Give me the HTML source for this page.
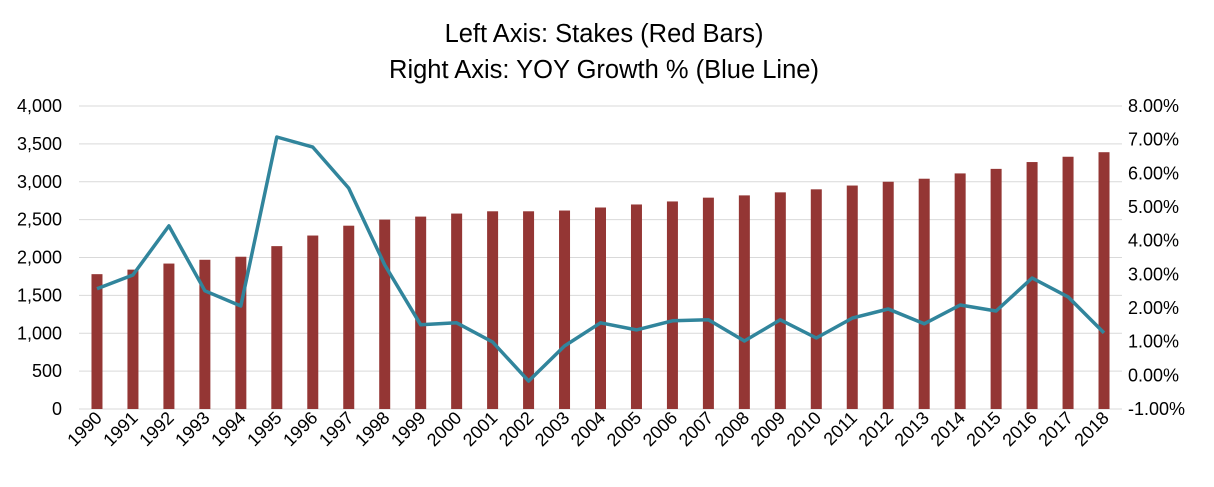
<!DOCTYPE html>
<html><head><meta charset="utf-8"><style>
html,body{margin:0;padding:0;background:#fff;}
svg{display:block;font-family:"Liberation Sans",sans-serif;}
</style></head><body>
<svg id="chart" width="1214" height="487">
<text x="604" y="42" text-anchor="middle" font-size="25.5" fill="#000">Left Axis: Stakes (Red Bars)</text>
<text x="604" y="78" text-anchor="middle" font-size="25.5" fill="#000">Right Axis: YOY Growth % (Blue Line)</text>
<g id="grid"></g><g id="bars"></g><g id="line"></g><g id="axes"></g>
</svg>
<script>
const years=["1990","1991","1992","1993","1994","1995","1996","1997","1998","1999","2000","2001","2002","2003","2004","2005","2006","2007","2008","2009","2010","2011","2012","2013","2014","2015","2016","2017","2018"];
const stakes=[1780,1840,1920,1970,2010,2150,2290,2420,2500,2540,2580,2610,2610,2620,2660,2700,2740,2790,2820,2860,2900,2950,3000,3040,3110,3170,3260,3330,3390];
const growth=[2.57,2.98,4.44,2.51,2.06,7.08,6.78,5.56,3.28,1.50,1.56,0.99,-0.17,0.87,1.56,1.35,1.62,1.65,1.02,1.65,1.11,1.70,1.97,1.53,2.09,1.91,2.89,2.33,1.26];
const leftTicks=[0,500,1000,1500,2000,2500,3000,3500,4000];
const rightTicks=[-1,0,1,2,3,4,5,6,7,8];
const NS="http://www.w3.org/2000/svg";
const L=79,R=1122,T=106,B=409;
const band=(R-L)/years.length;
const xC=i=>L+band*(i+0.5);
const yL=v=>B-(v-0)/(4000-0)*(B-T);
const yR=v=>B-(v+1)/(8+1)*(B-T);
function mk(tag,attrs,parent){const e=document.createElementNS(NS,tag);for(const k in attrs)e.setAttribute(k,attrs[k]);document.getElementById(parent).appendChild(e);return e;}
leftTicks.forEach((t,i)=>{
 const g=mk('line',{x1:L,x2:R,y1:yL(t),y2:yL(t),stroke:'#d9d9d9','stroke-width':1},'grid');
 
 
 const tx=mk('text',{x:62,y:yL(t)+6,'text-anchor':'end','font-size':18,fill:'#000'},'axes');
 tx.textContent=t.toLocaleString('en-US');
 
 
});
rightTicks.forEach(t=>{
 const tx=mk('text',{x:1128,y:yR(t)+6,'font-size':18,fill:'#000'},'axes');
 tx.textContent=t.toFixed(2)+'%';
 
 
});
stakes.forEach((v,i)=>{
 const r=mk('rect',{x:xC(i)-5.5,y:yL(v),width:11,height:B-yL(v),fill:'#943634'},'bars');
 
 
});
const pts=growth.map((v,i)=>xC(i).toFixed(1)+','+yR(v).toFixed(1)).join(' ');
const pl=mk('polyline',{points:pts,fill:'none',stroke:'#31859c','stroke-width':3.5,'stroke-linejoin':'round'},'line');


years.forEach((y,i)=>{
 const x=xC(i)+6,yy=419;
 const tx=mk('text',{x:x,y:yy,'text-anchor':'end','font-size':18,fill:'#000',transform:`rotate(-45 ${x} ${yy})`},'axes');
 tx.textContent=y;
 
 
});
</script>
</body></html>
